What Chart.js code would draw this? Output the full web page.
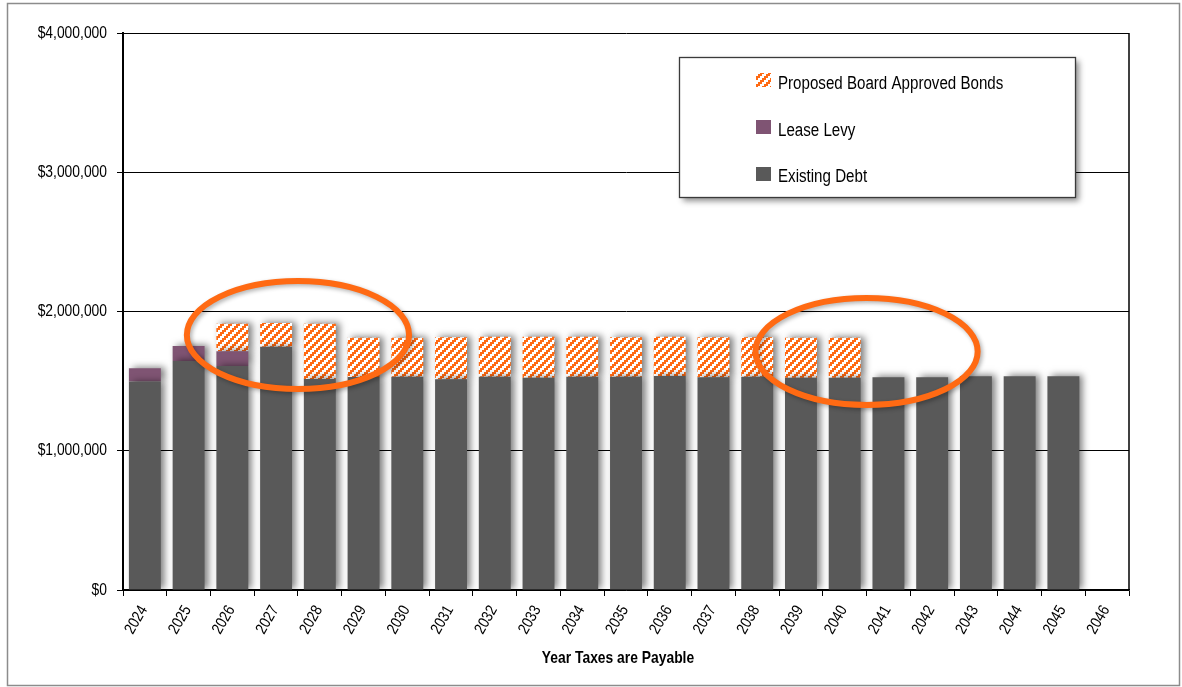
<!DOCTYPE html>
<html>
<head>
<meta charset="utf-8">
<script src="https://cdn.jsdelivr.net/npm/chart.js@4.4.1/dist/chart.umd.min.js"></script>
<style>
  html, body { margin: 0; padding: 0; background: #fff; }
  canvas { display: block; }
</style>
</head>
<body>
<canvas id="debtChart" width="1182" height="687"></canvas>
<script>
// Tax years
const years = ['2024','2025','2026','2027','2028','2029','2030','2031','2032','2033','2034','2035',
               '2036','2037','2038','2039','2040','2041','2042','2043','2044','2045','2046'];

// Annual levy by component (dollars)
const existingDebt = [1497000, 1644000, 1609000, 1747000, 1515000, 1530000, 1532000, 1513000, 1532000,
                      1525000, 1532000, 1532000, 1537000, 1527000, 1532000, 1525000, 1525000, 1527000,
                      1527000, 1535000, 1535000, 1535000, null];
const leaseLevy = [95000, 108000, 105000, 0, 0, 0, 0, 0, 0, 0, 0, 0, 0, 0, 0, 0, 0, 0, 0, 0, 0, 0, null];
const proposedBonds = [0, 0, 198000, 170000, 397000, 282000, 280000, 302000, 287000, 294000, 287000,
                       283000, 282000, 288000, 283000, 287000, 287000, 0, 0, 0, 0, 0, null];

const yTickValues = [0, 1000000, 2000000, 3000000, 4000000];
const seriesNames = ['Existing Debt', 'Lease Levy', 'Proposed Board Approved Bonds'];
const axisTitle = 'Year Taxes are Payable';

// Highlight rings around the bond years (centre in category index / dollars)
const highlights = [
  { cx: 3.5,  cy: 1831000, rx: 2.54, ry: 388000 },
  { cx: 16.5, cy: 1713000, rx: 2.54, ry: 384000 }
];

const FONT = '"Liberation Sans", Arial, sans-serif';
const NARROW = 0.84;            // horizontal squeeze giving a narrow face
const ORANGE = '#ff6a13';
const GREY = '#595959';
const PURPLE = '#7f5473';

// Orange / white stepped diagonal hatch
function makeHatch() {
  const p = document.createElement('canvas');
  p.width = 8; p.height = 8;
  const g = p.getContext('2d');
  g.fillStyle = '#ffffff';
  g.fillRect(0, 0, 8, 8);
  g.fillStyle = ORANGE;
  for (let y = 0; y < 8; y++) {
    for (let x = 0; x < 8; x++) {
      if (((Math.floor(x / 2) + Math.floor(y / 2)) % 4) < 2) g.fillRect(x, y, 1, 1);
    }
  }
  return document.getElementById('debtChart').getContext('2d').createPattern(p, 'repeat');
}
const hatch = makeHatch();

// Condensed text helper
function narrowText(c, text, x, y, font, align, angle) {
  c.save();
  c.translate(x, y);
  if (angle) c.rotate(angle);
  c.scale(NARROW, 1);
  c.font = font;
  c.fillStyle = '#000';
  c.textAlign = align;
  c.textBaseline = 'middle';
  c.fillText(text, 0, 0);
  c.restore();
}

const decorations = {
  id: 'decorations',
  beforeDraw(chart) {
    const c = chart.ctx;
    c.save();
    c.fillStyle = '#fff';
    c.fillRect(0, 0, chart.width, chart.height);
    c.strokeStyle = '#8c8c8c';
    c.lineWidth = 1.5;
    c.strokeRect(7.5, 3.5, 1172, 682);
    c.restore();
  },
  beforeDatasetsDraw(chart) {
    const c = chart.ctx;
    c.save();
    c.shadowColor = 'rgba(0,0,0,0.5)';
    c.shadowBlur = 7;
    c.shadowOffsetX = 4;
    c.shadowOffsetY = -1;
  },
  afterDatasetsDraw(chart) {
    const c = chart.ctx;
    c.restore();
    const a = chart.chartArea;
    const xs = chart.scales.x, ys = chart.scales.y;

    // right edge of the plot frame
    c.save();
    c.strokeStyle = '#000';
    c.lineWidth = 1.5;
    c.beginPath();
    c.moveTo(a.right, a.top);
    c.lineTo(a.right, a.bottom);
    c.stroke();
    c.restore();

    // highlight rings
    highlights.forEach(h => {
      const cx = xs.getPixelForValue(h.cx);
      const cy = ys.getPixelForValue(h.cy);
      const rx = Math.abs(xs.getPixelForValue(h.cx + h.rx) - cx);
      const ry = Math.abs(ys.getPixelForValue(h.cy + h.ry) - cy);
      c.save();
      c.shadowColor = 'rgba(0,0,0,0.3)';
      c.shadowBlur = 4;
      c.shadowOffsetX = 2;
      c.shadowOffsetY = 2;
      c.strokeStyle = ORANGE;
      c.lineWidth = 6;
      c.beginPath();
      c.ellipse(cx, cy, rx, ry, 0, 0, Math.PI * 2);
      c.stroke();
      c.restore();
    });

    // legend box
    const lx = 679, ly = 57, lw = 396, lh = 140;
    c.save();
    c.shadowColor = 'rgba(0,0,0,0.45)';
    c.shadowBlur = 6;
    c.shadowOffsetX = 4;
    c.shadowOffsetY = 4;
    c.fillStyle = '#fff';
    c.fillRect(lx, ly, lw, lh);
    c.restore();
    c.save();
    c.strokeStyle = '#3a3a3a';
    c.lineWidth = 1.3;
    c.strokeRect(lx + 0.5, ly + 0.5, lw, lh);
    c.restore();
    const ds = chart.data.datasets;
    const order = [2, 1, 0];
    const rowY = [84, 131, 177];
    const swY = [73, 120, 167];
    order.forEach((di, i) => {
      c.save();
      c.fillStyle = ds[di].backgroundColor;
      c.fillRect(756, swY[i], 15, 14);
      c.restore();
      narrowText(c, ds[di].label, 778, rowY[i], '18px ' + FONT, 'left', 0);
    });

    // y tick labels
    ys.ticks.forEach(t => {
      narrowText(c, t.label, 107, ys.getPixelForValue(t.value), '16.5px ' + FONT, 'right', 0);
    });

    // x tick labels, slanted
    xs.ticks.forEach((t, i) => {
      narrowText(c, String(t.label), xs.getPixelForTick(i) - 1, 607, '16px ' + FONT, 'right', -Math.PI / 3);
    });

    // x axis title
    narrowText(c, axisTitle, (a.left + a.right) / 2 - 8, 658, 'bold 16.5px ' + FONT, 'center', 0);
  }
};

new Chart(document.getElementById('debtChart'), {
  type: 'bar',
  data: {
    labels: years,
    datasets: [
      { label: seriesNames[0], data: existingDebt, backgroundColor: GREY },
      { label: seriesNames[1], data: leaseLevy, backgroundColor: PURPLE },
      { label: seriesNames[2], data: proposedBonds, backgroundColor: hatch }
    ]
  },
  options: {
    responsive: false,
    animation: false,
    events: [],
    devicePixelRatio: 1,
    layout: { padding: { top: 33, right: 53, left: 0, bottom: 0 } },
    datasets: { bar: { barPercentage: 0.73, categoryPercentage: 1, borderWidth: 0 } },
    plugins: { legend: { display: false }, tooltip: { enabled: false } },
    scales: {
      x: {
        stacked: true,
        afterFit(s) { s.height = 97; },
        grid: { drawOnChartArea: false, offset: true, tickLength: 6, color: '#000', tickColor: '#000' },
        border: { color: '#000', width: 1.5 },
        ticks: { display: false, autoSkip: false }
      },
      y: {
        stacked: true,
        min: 0, max: 4000000,
        afterFit(s) { s.width = 123; },
        afterBuildTicks(s) { s.ticks = yTickValues.map(v => ({ value: v })); },
        grid: { color: '#000', lineWidth: 1, tickLength: 6, tickColor: '#000' },
        border: { color: '#000', width: 2 },
        ticks: {
          display: false,
          callback: v => '$' + Number(v).toLocaleString('en-US')
        }
      }
    }
  },
  plugins: [decorations]
});
</script>
</body>
</html>
